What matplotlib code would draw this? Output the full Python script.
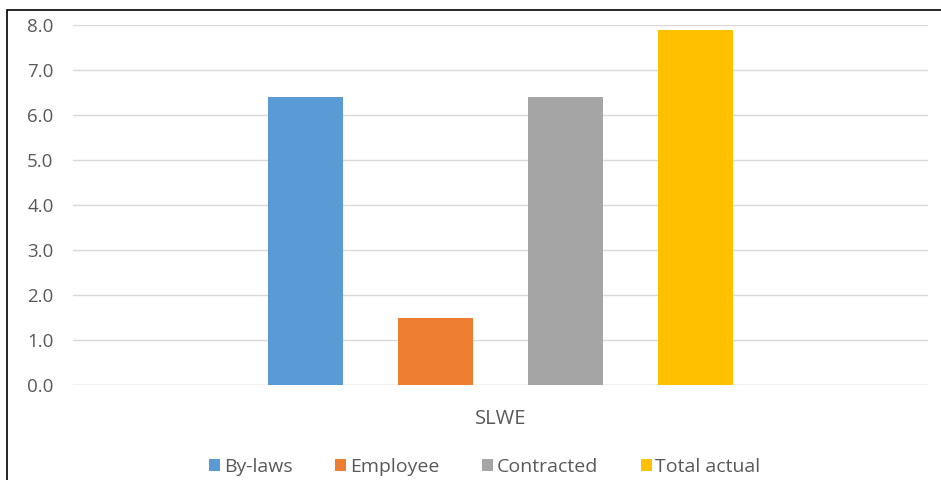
import matplotlib
matplotlib.use("Agg")
import matplotlib.pyplot as plt
from matplotlib.patches import Rectangle

category = "SLWE"
series = ["By-laws", "Employee", "Contracted", "Total actual"]
values = [6.4, 1.5, 6.4, 7.9]
colors = ["#5B9BD5", "#ED7D31", "#A5A5A5", "#FFC000"]
yticks = [0.0, 1.0, 2.0, 3.0, 4.0, 5.0, 6.0, 7.0, 8.0]

plt.rcParams["font.family"] = ["Open Sans", "DejaVu Sans"]

W, H = 941, 480
fig = plt.figure(figsize=(W / 100, H / 100), dpi=100)
fig.patch.set_facecolor("white")

# plot area in pixel terms
left, right, top, bottom = 73, 928, 25, 385
ax = fig.add_axes([left / W, 1 - bottom / H, (right - left) / W, (bottom - top) / H])

step = 130 / (right - left)
width = 75 / (right - left)
n = len(series)
for i, (name, v, c) in enumerate(zip(series, values, colors)):
    offset = (i - (n - 1) / 2) * step
    ax.bar(0 + offset, v, width=width, color=c, label=name, zorder=3)

ax.set_xlim(-0.5, 0.5)
ax.set_ylim(0, 8)
ax.set_yticks(yticks)
ax.set_yticklabels([f"{t:.1f}" for t in yticks])
ax.set_xticks([0])
ax.set_xticklabels([category])
ax.tick_params(axis="y", length=0, colors="#595959", labelsize=13.5, pad=14)
ax.tick_params(axis="x", length=0, colors="#595959", labelsize=14.5, pad=17)
ax.grid(axis="y", color="#D9D9D9", linewidth=1, zorder=0)
for s in ax.spines.values():
    s.set_visible(False)
ax.axhline(0, color="#D9D9D9", linewidth=1, zorder=2)

leg = fig.legend(loc="center", bbox_to_anchor=(485 / W, 1 - 467 / H), ncol=4,
                 frameon=False, fontsize=14, handlelength=0.55, handleheight=0.55,
                 handletextpad=0.2, columnspacing=2.2, labelcolor="#595959")

# chart-area border
fig.add_artist(Rectangle((7 / W, -0.05), 1.1, 1 - 10 / H + 0.05, transform=fig.transFigure,
                         fill=False, edgecolor="black", linewidth=1.2))

fig.savefig("out.png", dpi=100, facecolor="white")
